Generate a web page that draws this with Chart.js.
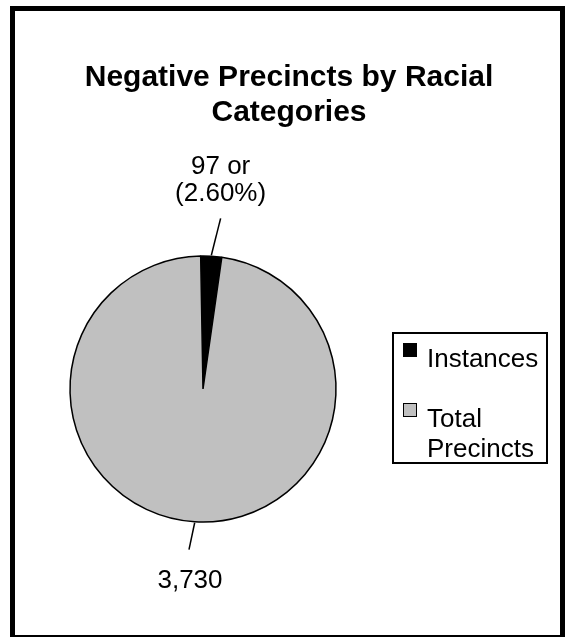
<!DOCTYPE html>
<html>
<head>
<meta charset="utf-8">
<script src="https://cdn.jsdelivr.net/npm/chart.js@4"></script>
<style>
  html, body { margin: 0; padding: 0; background: #fff; }
  #wrap { width: 568px; height: 637px; position: relative; }
</style>
</head>
<body>
<div id="wrap"><canvas id="pie"></canvas></div>
<script>
const titleLines = ["Negative Precincts by Racial", "Categories"];
const categories = ["Instances", ["Total", "Precincts"]];
const values = [97, 3730];
const sliceLabels = [["97 or", "(2.60%)"], ["3,730"]];
const colors = ["#000000", "#C0C0C0"];

const FONT = "'Liberation Sans', Arial, sans-serif";

// frame + title
const framePlugin = {
  id: "frame",
  afterDraw(chart) {
    const ctx = chart.ctx;
    ctx.save();
    ctx.strokeStyle = "#000";
    ctx.lineWidth = 5;
    ctx.strokeRect(12.5, 8.5, 550, 629);
    ctx.fillStyle = "#000";
    ctx.font = "bold 30px " + FONT;
    ctx.textAlign = "center";
    ctx.textBaseline = "alphabetic";
    titleLines.forEach((t, i) => ctx.fillText(t, 289, 86 + i * 35));
    ctx.restore();
  },
};

// slice labels with leader lines
const labelPlugin = {
  id: "sliceLabels",
  afterDatasetsDraw(chart) {
    const ctx = chart.ctx;
    const arcs = chart.getDatasetMeta(0).data;
    ctx.save();
    ctx.strokeStyle = "#000";
    ctx.lineWidth = 1.5;
    ctx.fillStyle = "#000";
    ctx.font = "26px " + FONT;
    ctx.textAlign = "center";
    arcs.forEach((arc, i) => {
      const { x, y, startAngle, endAngle, outerRadius } = arc.getProps(
        ["x", "y", "startAngle", "endAngle", "outerRadius"], true);
      const mid = (startAngle + endAngle) / 2;
      const dx = Math.cos(mid), dy = Math.sin(mid);
      const sx = x + dx * (outerRadius + 1), sy = y + dy * (outerRadius + 1);
      const up = dy < 0;
      const len = up ? 38 : 28;
      const ex = x + dx * (outerRadius + len) + (up ? 7 : -4);
      const ey = y + dy * (outerRadius + len);
      ctx.beginPath();
      ctx.moveTo(sx, sy);
      ctx.lineTo(ex, ey);
      ctx.stroke();
      const lines = sliceLabels[i];
      if (up) {
        lines.slice().reverse().forEach((t, k) => ctx.fillText(t, ex, ey - 17 - k * 27));
      } else {
        lines.forEach((t, k) => ctx.fillText(t, ex + 1, ey + 38 + k * 27));
      }
    });
    ctx.restore();
  },
};

// boxed legend
const legendPlugin = {
  id: "boxLegend",
  afterDraw(chart) {
    const ctx = chart.ctx;
    const ds = chart.data.datasets[0];
    ctx.save();
    ctx.strokeStyle = "#000";
    ctx.lineWidth = 2;
    ctx.strokeRect(393, 333, 154, 130);
    ctx.font = "26px " + FONT;
    ctx.textAlign = "left";
    let top = 343;
    chart.data.labels.forEach((lab, i) => {
      ctx.fillStyle = ds.backgroundColor[i];
      ctx.fillRect(403, top, 14, 14);
      ctx.lineWidth = 1;
      ctx.strokeRect(403.5, top + 0.5, 13, 13);
      ctx.fillStyle = "#000";
      const ls = Array.isArray(lab) ? lab : [lab];
      ls.forEach((t, k) => ctx.fillText(t, 427, top + 24 + k * 30));
      top += 60;
    });
    ctx.restore();
  },
};

new Chart(document.getElementById("pie"), {
  type: "pie",
  data: {
    labels: categories,
    datasets: [{
      data: values,
      backgroundColor: colors,
      borderColor: "#000",
      borderWidth: 1.5,
      hoverOffset: 0,
    }],
  },
  options: {
    responsive: true,
    maintainAspectRatio: false,
    animation: false,
    rotation: -1,
    radius: 133,
    layout: { padding: { left: 69, right: 568 - 337, top: 255, bottom: 637 - 523 } },
    plugins: {
      legend: { display: false },
      tooltip: { enabled: false },
      title: { display: false },
    },
  },
  plugins: [framePlugin, labelPlugin, legendPlugin],
});
</script>
</body>
</html>
